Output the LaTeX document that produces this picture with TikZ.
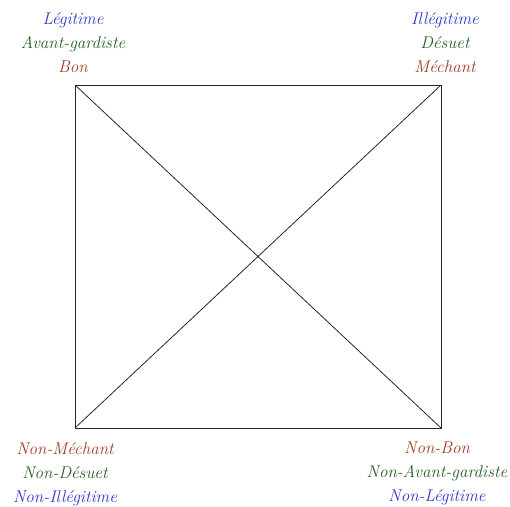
\documentclass[tikz,border=0pt]{standalone}
\usepackage{tikz}
\usetikzlibrary{positioning}
\definecolor{legblue}{RGB}{45,55,205}
\definecolor{avgreen}{RGB}{35,95,35}
\definecolor{bonred}{RGB}{160,60,35}

\begin{document}
\begin{tikzpicture}[x=1pt, y=-1pt,
  lbl/.style={align=center, inner sep=0pt,
              font=\fontsize{17}{24}\selectfont\itshape},
  edge/.style={line width=0.8pt, black!85}]
\useasboundingbox (0,0) rectangle (510,506);
% corners of the square
\coordinate (tl) at (75,85);
\coordinate (tr) at (441,85);
\coordinate (bl) at (75,428);
\coordinate (br) at (441,428);
\draw[edge] (tl) -- (tr) -- (br) -- (bl) -- cycle;
\draw[edge] (tl) -- (br);
\draw[edge] (tr) -- (bl);
% labels
\node[lbl, above=12pt of tl, xshift=-2pt] (ltl)
  {\textcolor{legblue}{Légitime}\\\textcolor{avgreen}{Avant-gardiste}\\\textcolor{bonred}{Bon}};
\node[lbl, above=12pt of tr, xshift=4pt] (ltr)
  {\textcolor{legblue}{Illégitime}\\\textcolor{avgreen}{Désuet}\\\textcolor{bonred}{Méchant}};
\node[lbl, below=14pt of bl, xshift=-10pt] (lbl)
  {\textcolor{bonred}{Non-Méchant}\\\textcolor{avgreen}{Non-Désuet}\\\textcolor{legblue}{Non-Illégitime}};
\node[lbl, below=14pt of br, xshift=-4pt] (lbr)
  {\textcolor{bonred}{Non-Bon}\\\textcolor{avgreen}{Non-Avant-gardiste}\\\textcolor{legblue}{Non-Légitime}};
\end{tikzpicture}
\end{document}
